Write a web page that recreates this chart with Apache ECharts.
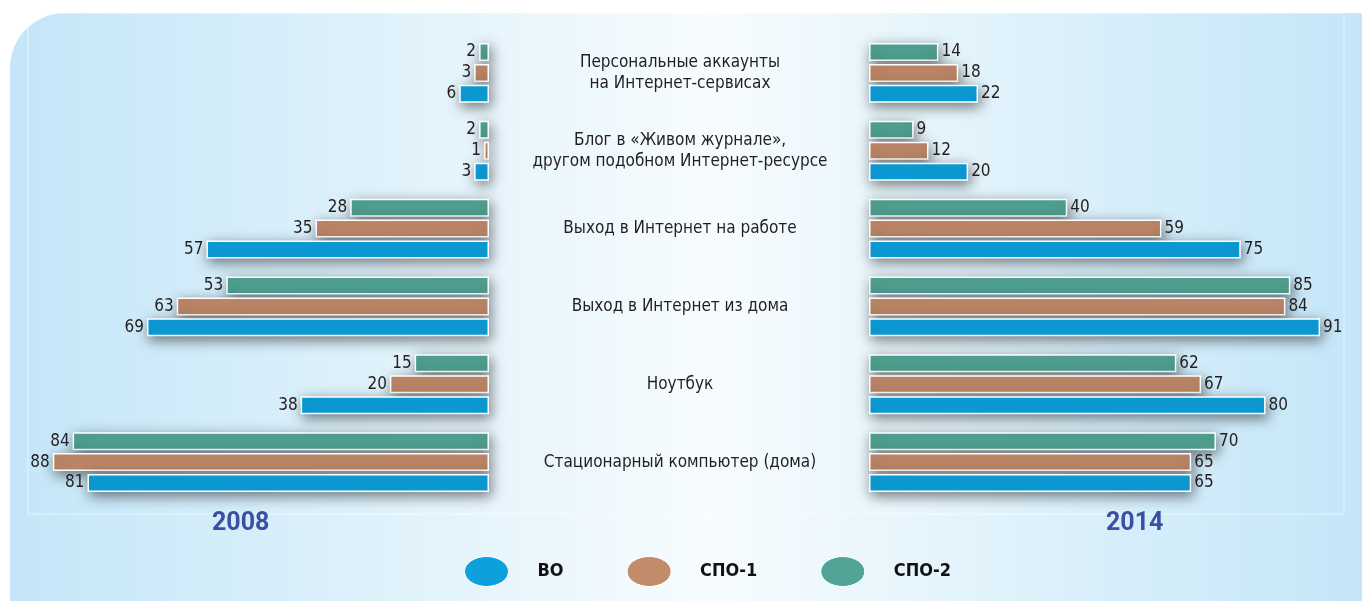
<!DOCTYPE html>
<html>
<head>
<meta charset="utf-8">
<script src="https://cdn.jsdelivr.net/npm/echarts@6/dist/echarts.min.js"></script>
<style>
html,body{margin:0;padding:0;background:#fff;}
#chart{width:1362px;height:601px;}
</style>
</head>
<body>
<div id="chart"></div>
<script>
const categories = [
  'Персональные аккаунты\nна Интернет-сервисах',
  'Блог в «Живом журнале»,\nдругом подобном Интернет-ресурсе',
  'Выход в Интернет на работе',
  'Выход в Интернет из дома',
  'Ноутбук',
  'Стационарный компьютер (дома)'
];
const seriesNames = ['СПО-2', 'СПО-1', 'ВО'];
const legendNames = ['ВО', 'СПО-1', 'СПО-2'];
const years = ['2008', '2014'];
// 2008
const vo2008   = [6, 3, 57, 69, 38, 81];
const spo1_2008 = [3, 1, 35, 63, 20, 88];
const spo2_2008 = [2, 2, 28, 53, 15, 84];
// 2014
const vo2014   = [22, 20, 75, 91, 80, 65];
const spo1_2014 = [18, 12, 59, 84, 67, 65];
const spo2_2014 = [14, 9, 40, 85, 62, 70];

const colors = { 'ВО': '#0ca0dc', 'СПО-1': '#c28b6a', 'СПО-2': '#52a596' };
const FONT = '"Liberation Sans Narrow", "DejaVu Sans Condensed", sans-serif';

const data2008 = { 'СПО-2': spo2_2008, 'СПО-1': spo1_2008, 'ВО': vo2008 };
const data2014 = { 'СПО-2': spo2_2014, 'СПО-1': spo1_2014, 'ВО': vo2014 };

function mkSeries(name, data, idx, pos) {
  return {
    type: 'bar', name: name, data: data,
    xAxisIndex: idx, yAxisIndex: idx,
    barWidth: 18, barGap: '16%',
    itemStyle: {
      color: colors[name], borderColor: '#ffffff', borderWidth: 1.5,
      shadowBlur: 13, shadowColor: 'rgba(0,0,0,0.5)', shadowOffsetX: 2, shadowOffsetY: 4
    },
    label: {
      show: true, position: pos, distance: 3,
      fontFamily: FONT, fontSize: 17, color: '#231f20'
    },
    z: 3
  };
}

const series = [];
seriesNames.forEach(n => series.push(mkSeries(n, data2008[n], 0, 'left')));
seriesNames.forEach(n => series.push(mkSeries(n, data2014[n], 1, 'right')));

const ellipse = 'path://M0,15 A22,15 0 1,1 44,15 A22,15 0 1,1 0,15 Z';

const option = {
  backgroundColor: '#ffffff',
  animation: false,
  graphic: [
    {
      type: 'rect', z: -10, silent: true,
      shape: { x: 10, y: 13, width: 1400, height: 640, r: 55 },
      style: {
        fill: new echarts.graphic.LinearGradient(0, 0, 1, 0, [
          { offset: 0, color: '#c4e6f8' },
          { offset: 0.5, color: '#f7fcfe' },
          { offset: 0.965, color: '#c4e6f8' },
          { offset: 1, color: '#c4e6f8' }
        ])
      }
    },
    {
      type: 'rect', z: -9, silent: true,
      shape: { x: 28, y: 13, width: 1316, height: 501 },
      style: { fill: 'none', stroke: 'rgba(255,255,255,0.6)', lineWidth: 1 }
    }
  ],
  title: [
    { text: years[0], left: 207, top: 506,
      textStyle: { fontFamily: 'Roboto, "Liberation Sans", sans-serif', fontWeight: 'bold', fontSize: 25, color: '#3b4fa3' } },
    { text: years[1], left: 1101, top: 506,
      textStyle: { fontFamily: 'Roboto, "Liberation Sans", sans-serif', fontWeight: 'bold', fontSize: 25, color: '#3b4fa3' } }
  ],
  legend: {
    left: 464, top: 556, padding: 0,
    itemWidth: 44, itemHeight: 31, itemGap: 63,
    data: legendNames.map(n => ({ name: n, icon: ellipse, itemStyle: { color: colors[n], borderColor: '#fff', borderWidth: 1, shadowBlur: 0, shadowOffsetX: 0, shadowOffsetY: 0 } })),
    textStyle: { fontFamily: '"DejaVu Sans Condensed", "Liberation Sans Narrow", sans-serif', fontWeight: 'bold', fontSize: 18, color: '#111', padding: [0, 0, 0, 24] },
    selectedMode: false
  },
  grid: [
    { left: 28, width: 461, top: 34, height: 467 },
    { left: 869, width: 461, top: 34, height: 467 }
  ],
  xAxis: [
    { gridIndex: 0, type: 'value', min: 0, max: 93, inverse: true, show: false },
    { gridIndex: 1, type: 'value', min: 0, max: 93, show: false }
  ],
  yAxis: [
    { gridIndex: 0, type: 'category', data: categories, inverse: true, position: 'right',
      axisLine: { show: false }, axisTick: { show: false }, splitLine: { show: false },
      axisLabel: { show: true, align: 'center', margin: 191, fontFamily: FONT, fontSize: 17, lineHeight: 21, color: '#231f20' } },
    { gridIndex: 1, type: 'category', data: categories, inverse: true, show: false }
  ],
  series: series
};

const chart = echarts.init(document.getElementById('chart'), null, { renderer: 'canvas' });
chart.setOption(option);
</script>
</body>
</html>
